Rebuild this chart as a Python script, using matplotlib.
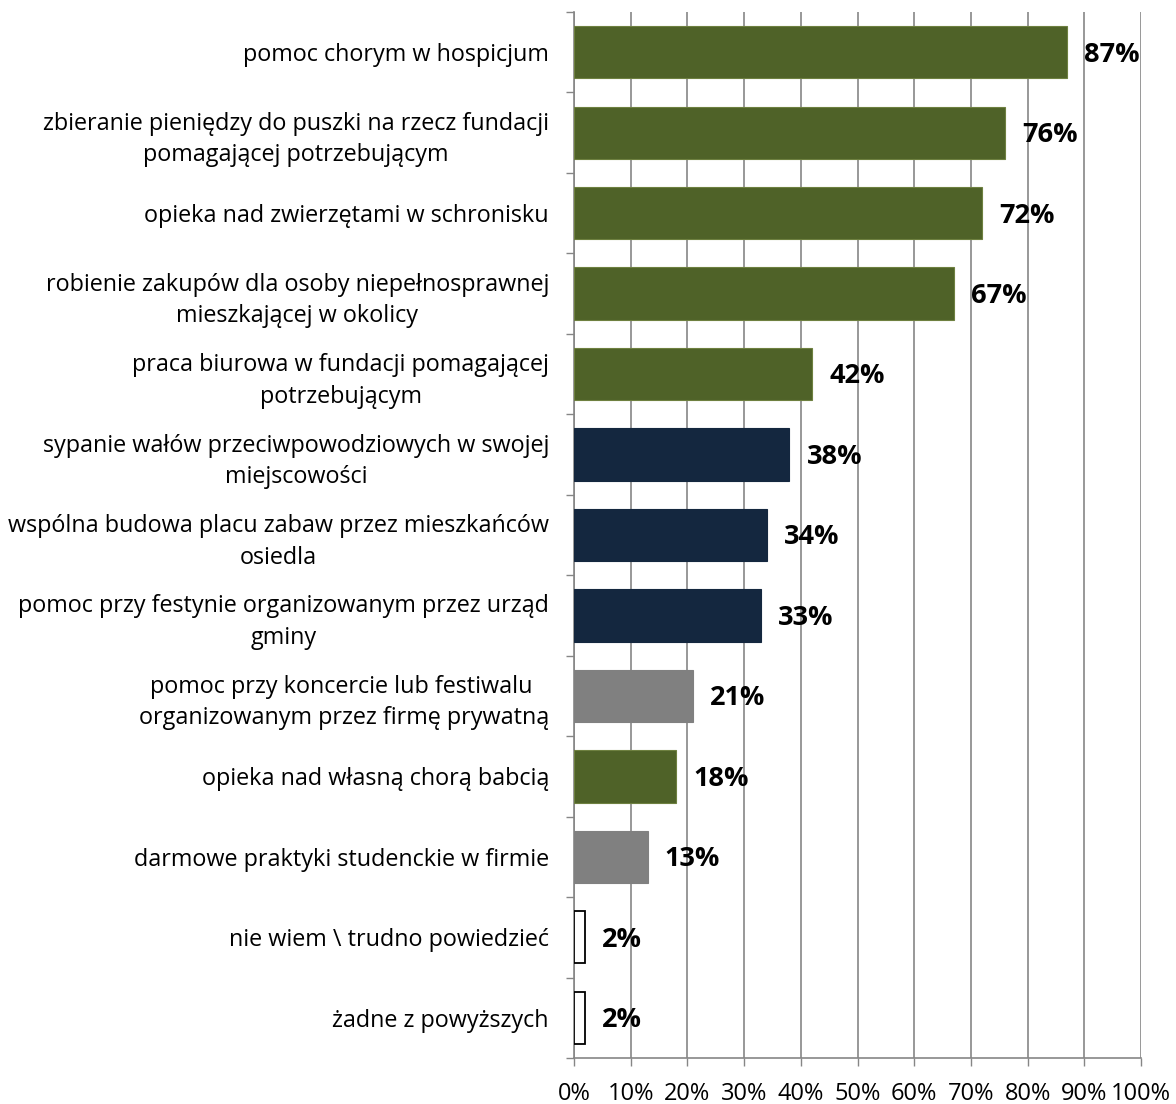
import matplotlib.pyplot as plt
from matplotlib.ticker import FixedLocator

labels = [
    "pomoc chorym w hospicjum",
    "zbieranie pieniędzy do puszki na rzecz fundacji\npomagającej potrzebującym",
    "opieka nad zwierzętami w schronisku",
    "robienie zakupów dla osoby niepełnosprawnej\nmieszkającej w okolicy",
    "praca biurowa w fundacji pomagającej\npotrzebującym",
    "sypanie wałów przeciwpowodziowych w swojej\nmiejscowości",
    "wspólna budowa placu zabaw przez mieszkańców\nosiedla",
    "pomoc przy festynie organizowanym przez urząd\ngminy",
    "pomoc przy koncercie lub festiwalu \norganizowanym przez firmę prywatną",
    "opieka nad własną chorą babcią",
    "darmowe praktyki studenckie w firmie",
    "nie wiem \\ trudno powiedzieć",
    "żadne z powyższych",
]
values = [87, 76, 72, 67, 42, 38, 34, 33, 21, 18, 13, 2, 2]
groups = ["g", "g", "g", "g", "g", "n", "n", "n", "s", "g", "s", "w", "w"]
xticks = list(range(0, 101, 10))

fills = {"g": "#4F6228", "n": "#14273F", "s": "#808080", "w": "white"}
edges = {"g": "#6E8040", "n": "#14273F", "s": "#808080", "w": "black"}

plt.rcParams['font.family'] = ["Open Sans", 'DejaVu Sans']

fig = plt.figure(figsize=(11.76, 11.04), dpi=100)
ax = fig.add_axes([574 / 1176, 1 - 1058 / 1104, 567 / 1176, 1046 / 1104])

ypos = list(range(len(labels)))
for y, v, g in zip(ypos, values, groups):
    ax.barh(y, v, height=0.65, color=fills[g], edgecolor=edges[g],
            linewidth=1.3 if g == "w" else 0.8, zorder=3)
    ax.text(v + 3.0, y + 0.03, f"{v}%", ha="left", va="center",
            fontsize=19.5, fontweight="bold", color="black", zorder=4)

ax.set_xlim(0, 100)
ax.set_ylim(len(labels) - 0.5, -0.5)
ax.set_xticks(xticks)
ax.set_xticklabels([f"{i}%" for i in xticks])
ax.set_yticks(ypos)
ax.set_yticklabels(labels, multialignment="center", linespacing=1.42)
ax.yaxis.set_minor_locator(FixedLocator([i - 0.5 for i in range(len(labels) + 1)]))

ax.tick_params(axis="y", which="major", length=0, pad=18, labelsize=16.8)
ax.tick_params(axis="y", which="minor", length=6, color="#868686", width=1)
ax.tick_params(axis="x", length=6, color="#868686", width=1, pad=11, labelsize=17)

ax.grid(axis="x", color="#868686", linewidth=1.2, zorder=0)
for s in ["top", "right"]:
    ax.spines[s].set_visible(False)
for s in ["left", "bottom"]:
    ax.spines[s].set_color("#868686")
    ax.spines[s].set_linewidth(1.2)

fig.savefig("out.png", dpi=100)
